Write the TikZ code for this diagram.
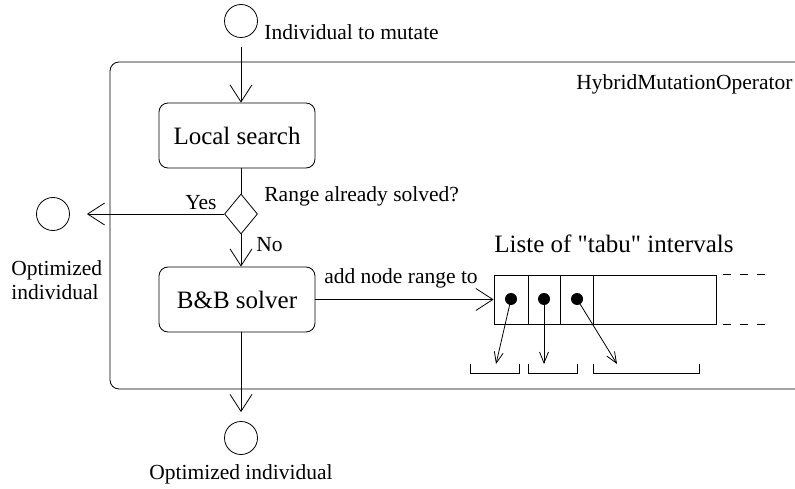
\documentclass[tikz,border=0pt]{standalone}
\usepackage{fontspec}
\setmainfont{Liberation Serif}
\usetikzlibrary{arrows.meta,shapes.geometric}
\begin{document}
\begin{tikzpicture}[x=1pt,y=-1pt,line width=0.8pt,
  every node/.style={font=\fontsize{21.5}{25}\selectfont, inner sep=0pt},
  state/.style={draw, circle, minimum size=33pt, inner sep=0pt},
  action/.style={draw, rounded corners=9pt, minimum width=156pt, minimum height=65pt, font=\fontsize{25}{29}\selectfont},
  decision/.style={draw, diamond, minimum width=33pt, minimum height=40pt, inner sep=0pt},
  flow/.style={-{Straight Barb[length=17pt,width=22pt]}},
  ptr/.style={-{Straight Barb[length=11pt,width=9pt]}},
  dot/.style={fill=black, circle, minimum size=12pt, inner sep=0pt},
  lbl/.style={font=\fontsize{21.5}{24}\selectfont},
  biglbl/.style={font=\fontsize{25}{29}\selectfont}
]
\useasboundingbox (0,0) rectangle (795,489);
\clip (0,0) rectangle (795,489);
% frame
\draw[rounded corners=9pt] (110,62) rectangle (840,389);
\node[lbl, anchor=west] (frametitle) at (576,84) {HybridMutationOperator};

% nodes
\node[state] (start) at (241,21) {};
\node[lbl, anchor=west] (startlbl) at (264,32) {Individual to mutate};
\node[action] (ls) at (237,135.5) {Local search};
\node[decision] (dec) at (241,214) {};
\node[lbl, anchor=west] (declbl) at (264,196) {Range already solved?};
\node[state] (lc) at (53,214) {};
\node[lbl, anchor=west, align=left] (lclbl) at (11,280) {Optimized\\individual};
\node[action] (bb) at (237,299.5) {B\&B solver};
\node[state] (end) at (241,438) {};
\node[lbl] (endlbl) at (241,474) {Optimized individual};

% list
\node[draw, minimum width=222pt, minimum height=49pt, inner sep=0pt] (list) at (605,299.5) {};
\node[biglbl, anchor=west] (listlbl) at (494,244) {Liste of \textquotedbl tabu\textquotedbl{} intervals};
\draw (528,275) -- (528,324);
\draw (560,275) -- (560,324);
\draw (593,275) -- (593,324);
\draw[dash pattern=on 8pt off 9pt] (list.north east) ++(7,0) -- ++(42,0);
\draw[dash pattern=on 8pt off 9pt] (list.south east) ++(7,0) -- ++(42,0);
\node[dot] (d1) at (511,299) {};
\node[dot] (d2) at (544,299) {};
\node[dot] (d3) at (577,299) {};
\coordinate (t1) at (496,364);
\coordinate (t2) at (544,364);
\coordinate (t3) at (617,364);
\draw[ptr] (d1.center) -- (t1);
\draw[ptr] (d2.center) -- (t2);
\draw[ptr] (d3.center) -- (t3);
\draw (470,364) -- (470,373) -- (519,373) -- (519,364);
\draw (528,364) -- (528,373) -- (577,373) -- (577,364);
\draw (593,364) -- (593,373) -- (699,373) -- (699,364);

% connectors
\draw[flow, shorten <=9pt] (start.south) -- (start.south |- ls.north);
\draw (dec.north |- ls.south) -- (dec.north);
\draw[flow, shorten >=17pt] (dec.west) -- (dec.west -| lc.east);
\draw[flow] (dec.south) -- (dec.south |- bb.north);
\draw[flow, shorten >=9pt] (dec.south |- bb.south) -- (end.north);
\draw[flow] (bb.east) -- (list.west);
\node[lbl, anchor=east] (yes) at (217,203) {Yes};
\node[lbl, anchor=west] (no) at (256,245) {No};
\node[lbl] (addlbl) at (401,278) {add node range to};
\end{tikzpicture}
\end{document}
